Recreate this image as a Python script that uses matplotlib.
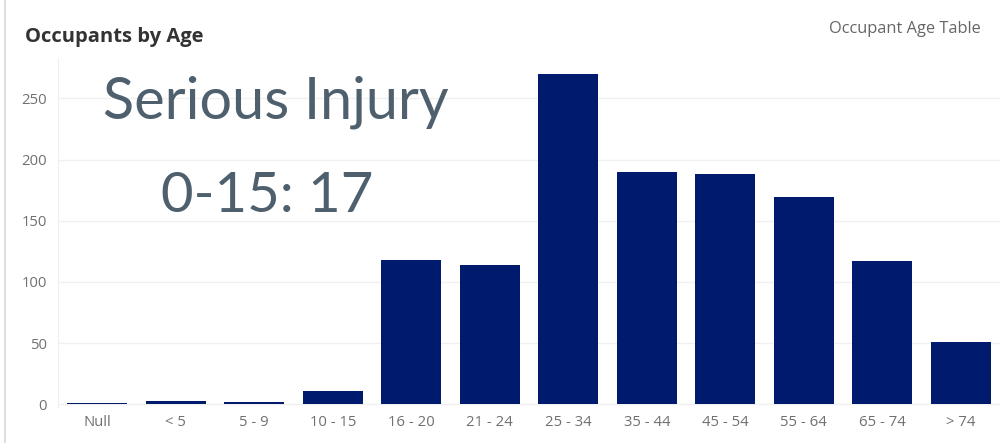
import matplotlib.pyplot as plt

age_groups = ["Null", "< 5", "5 - 9", "10 - 15", "16 - 20", "21 - 24", "25 - 34",
              "35 - 44", "45 - 54", "55 - 64", "65 - 74", "> 74"]
occupants = [1, 3, 2, 11, 118, 114, 270, 190, 188, 169, 117, 51]
y_ticks = [0, 50, 100, 150, 200, 250]

plt.rcParams['font.family'] = ['Open Sans', 'DejaVu Sans']

fig = plt.figure(figsize=(10, 4.43), dpi=100)
ax = fig.add_axes([0.058, 0.082, 0.942, 0.787])

ax.bar(range(len(age_groups)), occupants, width=0.76, color="#001a6e", zorder=3)
ax.set_xlim(-0.5, len(age_groups) - 0.5)
ax.set_ylim(-2, 283)
ax.set_xticks(range(len(age_groups)))
ax.set_xticklabels(age_groups)
ax.set_yticks(y_ticks)
ax.tick_params(axis="both", length=0, labelsize=10.7, colors="#707070")
ax.tick_params(axis="x", pad=6)
ax.tick_params(axis="y", pad=8)
ax.grid(axis="y", color="#f0f0f0", linewidth=1, zorder=0)
for side in ["top", "right", "bottom"]:
    ax.spines[side].set_visible(False)
ax.spines["left"].set_color("#f0f0f0")

# light frame line on the far left
fig.add_artist(plt.Line2D([0.005, 0.005], [0, 1], color="#d8d8d8", linewidth=1.2))

fig.text(0.025, 0.917, "Occupants by Age", fontsize=14.5, fontweight="bold",
         color="#333333", va="center", ha="left")
fig.text(0.981, 0.935, "Occupant Age Table", fontsize=11.8, color="#666666",
         va="center", ha="right")

# overlay annotation text
fig.text(0.276, 0.77, "Serious Injury", fontsize=41.5, color="#4e5f6e",
         va="center", ha="center", family=["Lato", "DejaVu Sans"])
fig.text(0.267, 0.557, "0-15: 17", fontsize=40.5, color="#4e5f6e",
         va="center", ha="center", family=["Lato", "DejaVu Sans"])

fig.savefig("out.png", dpi=100)
